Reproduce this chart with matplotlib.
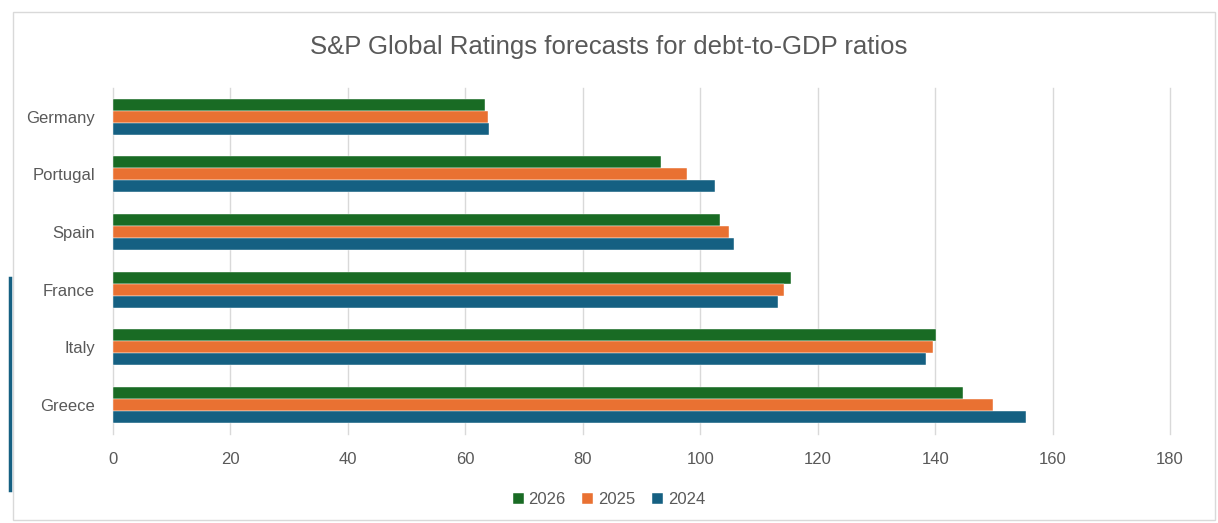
import numpy as np
import matplotlib
matplotlib.use('Agg')
import matplotlib.pyplot as plt
from matplotlib.patches import Rectangle
from matplotlib.lines import Line2D

plt.rcParams['font.family'] = ['Liberation Sans', 'DejaVu Sans']

# 数据 (从上到下)
countries = ['Germany', 'Portugal', 'Spain', 'France', 'Italy', 'Greece']
years = ['2026', '2025', '2024']
vals_2026 = [63.3, 93.4, 103.3, 115.5, 140.1, 144.8]
vals_2025 = [63.8, 97.7, 104.9, 114.3, 139.6, 149.9]
vals_2024 = [64.1, 102.5, 105.8, 113.3, 138.5, 155.4]
xticks = [0, 20, 40, 60, 80, 100, 120, 140, 160, 180]

colors = {'2026': '#196B24', '2025': '#E97132', '2024': '#156082'}
text_gray = '#595959'

fig = plt.figure(figsize=(12.18, 5.23), dpi=100)
ax = fig.add_axes([0.0928, 0.1702, 0.8678, 0.6616])

# 图表外框
fig.patches.append(Rectangle((13 / 1218, 3 / 523), 1202 / 1218, 508 / 523,
                             transform=fig.transFigure, fill=False,
                             edgecolor='#D9D9D9', linewidth=1.0))
fig.add_artist(Line2D([10 / 1218, 10 / 1218], [1 - 490 / 523, 1 - 278 / 523],
                      transform=fig.transFigure, color='#156082', linewidth=2.5))

y = np.arange(len(countries))
h = 0.208
series = [('2026', vals_2026, -h), ('2025', vals_2025, 0), ('2024', vals_2024, h)]
for name, vals, off in series:
    ax.barh(y + off, vals, height=h, color=colors[name], label=name,
            edgecolor='white', linewidth=0.3, zorder=3)

ax.set_xlim(0, 180)
ax.set_ylim(len(countries) - 0.5, -0.5)
ax.set_xticks(xticks)
ax.set_yticks(y)
ax.set_yticklabels(countries)
ax.tick_params(axis='both', length=0, labelsize=12, colors=text_gray)
ax.tick_params(axis='y', pad=13)
ax.tick_params(axis='x', pad=13)
ax.grid(axis='x', color='#D9D9D9', linewidth=1.0, zorder=0)
for gl in ax.get_xgridlines():
    gl.set_clip_on(False)
for s in ax.spines.values():
    s.set_visible(False)

fig.text(0.5, 1 - 47 / 523, 'S&P Global Ratings forecasts for debt-to-GDP ratios',
         ha='center', va='center', fontsize=18.5, color=text_gray)

handles, labels = ax.get_legend_handles_labels()
fig.legend(handles, labels, loc='center', bbox_to_anchor=(0.5, 1 - 500 / 523),
           ncol=3, frameon=False, fontsize=12, labelcolor=text_gray,
           handlelength=0.65, handleheight=0.65, handletextpad=0.3, columnspacing=1.0)

plt.savefig('out.png', dpi=100)
